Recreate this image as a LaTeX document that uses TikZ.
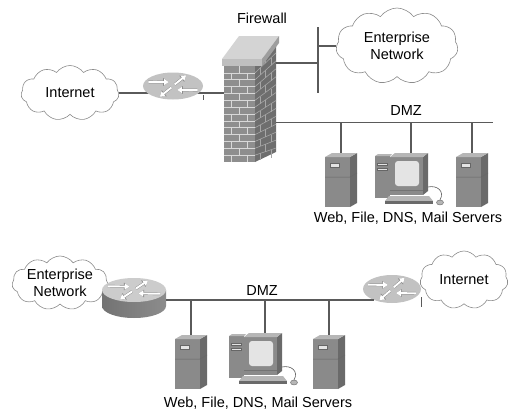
\documentclass[tikz,border=0pt]{standalone}
\usepackage{fontspec}
\setmainfont{Liberation Sans}
\usetikzlibrary{shapes.geometric, shapes.symbols, arrows.meta, calc}
\definecolor{clrLink}{HTML}{5A5A5A}
\definecolor{clrCloud}{HTML}{8C8C8C}
\definecolor{clrRouter}{HTML}{C2C2C2}
\definecolor{clrBrick}{HTML}{8E8E8E}
\definecolor{clrBrickSide}{HTML}{6E6E6E}
\definecolor{clrMortar}{HTML}{D8D8D8}
\definecolor{clrBoxFront}{HTML}{8A8A8A}
\definecolor{clrBoxSide}{HTML}{6A6A6A}
\definecolor{clrBoxTop}{HTML}{B6B6B6}
\definecolor{clrScreen}{HTML}{E4E4E4}

\tikzset{
  server/.pic={
    \fill[clrBoxSide] (25,4) -- (32,0) -- (32,50) -- (25,54) -- cycle;
    \fill[clrBoxFront] (0,4) rectangle (25,54);
    \fill[clrBoxTop] (0,4) -- (7,0) -- (32,0) -- (25,4) -- cycle;
    \draw[black!60, line width=0.5pt] (0,24) -- (25,24) -- (32,20);
    \draw[black!60, fill=clrScreen, line width=0.4pt] (5,10) rectangle (14,14);
    \coordinate (-top) at (16,0);
  },
  workstation/.pic={
    % tower behind the monitor
    \fill[clrBoxFront] (0,3) rectangle (15,45);
    \fill[clrBoxTop] (0,3) -- (3,1) -- (17,1) -- (15,3) -- cycle;
    \draw[black!60, fill=clrScreen, line width=0.4pt] (2,10) rectangle (12,12.5) (2,15) rectangle (12,17.5);
    % monitor
    \fill[clrBoxSide] (48,4) -- (53,0) -- (53,38) -- (48,42) -- cycle;
    \fill[clrBoxFront] (15,4) rectangle (48,42);
    \fill[clrBoxTop] (15,4) -- (20,0) -- (53,0) -- (48,4) -- cycle;
    \fill[clrScreen, rounded corners=3pt] (20,8) rectangle (44,33);
    \draw[black!55, line width=0.5pt] (15,37) -- (48,37);
    % keyboard, mouse
    \fill[clrBoxTop] (14,43) -- (54,43) -- (58,48) -- (10,48) -- cycle;
    \fill[clrBoxSide] (10,48) rectangle (58,51);
    \draw[black!65, line width=0.6pt] (53,34) .. controls (62,32) and (70,38) .. (65,47);
    \filldraw[fill=clrBoxTop, draw=black!60, line width=0.4pt] (65,49.5) ellipse [x radius=3.5, y radius=2.5];
    \coordinate (-top) at (36,0);
  },
  rarrows/.pic={
    \foreach \ax/\ay/\bx/\by in {-0.85/-0.32/-0.15/-0.3, 0.85/0.32/0.15/0.3, 0.06/-0.12/0.45/-0.82, -0.06/0.12/-0.45/0.82}{
      \draw[arrowedge] (\ax,\ay) -- (\bx,\by);
      \draw[arrowglyph] (\ax,\ay) -- (\bx,\by);
    }
  },
  arrowedge/.style={black!45, line width=2.8pt, -{Triangle[length=5.5pt, width=7.5pt]}},
  arrowglyph/.style={white, line width=1.9pt, -{Triangle[length=4.6pt, width=6pt]}},
}

\begin{document}
\begin{tikzpicture}[
    x=1pt, y=-1pt,
    link/.style={draw=clrLink, line width=1.1pt},
    lbl/.style={font=\fontsize{14.5}{17.5}\selectfont, inner sep=0pt, align=center},
    cloudnet/.style={cloud, cloud puffs=11, cloud puff arc=110, cloud ignores aspect, draw=clrCloud, fill=white, line width=0.6pt, inner sep=0pt, font=\fontsize{14.5}{17.5}\selectfont, align=center},
    flatrouter/.style={ellipse, fill=clrRouter, inner sep=0pt},
    fwface/.style={rectangle, fill=clrBrick, inner sep=0pt, minimum width=31pt, minimum height=96pt},
    mortar/.style={draw=clrMortar, line width=0.7pt},
    sidemortar/.style={draw=black!35, line width=0.6pt},
]
\useasboundingbox (0,0) rectangle (509,415);

%% ---------------- firewall layout ----------------

% Firewall wall
\node[lbl] (fwlbl) at (262,18) {Firewall};
\fill[clrBrickSide] (255,66) -- (276,45) -- (276,152) -- (255,162) -- cycle;
\foreach \k in {1,...,13}
  \draw[sidemortar] (255,{66+6.857*\k}) -- (276,{45+7.929*\k});
\foreach \k in {0,2,...,12}
  \draw[sidemortar] (265.5,{55.5+7.39*\k}) -- ++(0,7.39);
\foreach \k in {1,3,...,13}
  \draw[sidemortar] (260,{61+7.1*\k}) -- ++(0,7.1) (271,{50+7.7*\k}) -- ++(0,7.7);
\node[fwface] (fw) at (239.5,114) {};
\foreach \k in {1,...,13}
  \draw[mortar] (fw.west |- 0,{66+6.857*\k}) -- (fw.east |- 0,{66+6.857*\k});
\foreach \k in {0,2,...,12}
  \draw[mortar] (239.5,{66+6.857*\k}) -- ++(0,6.857);
\foreach \k in {1,3,...,13}
  \draw[mortar] (231.5,{66+6.857*\k}) -- ++(0,6.857) (247.5,{66+6.857*\k}) -- ++(0,6.857);
% cap
\fill[black!17] (222,59) -- (239,36) -- (279,36) -- (262,59) -- cycle;
\fill[black!25] (222,59) rectangle (262,66);
\fill[black!38] (262,59) -- (279,36) -- (279,43) -- (262,66) -- cycle;
\coordinate (fwent) at (276,63);
\coordinate (fwdmz) at (276,122.7);

% Internet side
\node[cloudnet, minimum width=98pt, minimum height=55pt] (inetA) at (70,93) {Internet};
\draw[link] (inetA.east) -- (inetA.east -| fw.west);
\node[flatrouter, minimum width=60pt, minimum height=27pt] (rtA) at (173,86) {};
\pic[xscale=29, yscale=13] at (rtA) {rarrows};
\draw[link, line width=0.6pt] ($(rtA.east)+(0,9)$) -- ++(0,5);

% Enterprise side
\node[cloudnet, minimum width=122pt, minimum height=76pt] (entA) at (397,46) {Enterprise\\Network};
\coordinate (busT) at (318,27);
\coordinate (busB) at (318,93);
\draw[link] (fwent) -- (fwent -| busT);
\draw[link] (busT) -- (busB);
\draw[link] (busT |- entA.west) -- (entA.west);

% DMZ segment
\coordinate (dmzEndA) at (493,122.7);
\draw[link] (fwdmz) -- (dmzEndA);
\node[lbl] (dmzA) at (406,111) {DMZ};
\pic (svA1) at (325,153) {server};
\pic (pcA) at (375,153) {workstation};
\pic (svA2) at (456,153) {server};
\foreach \s in {svA1, pcA, svA2}
  \draw[link] (\s-top |- fwdmz) -- (\s-top);
\node[lbl] (srvlblA) at (408,218) {Web, File, DNS, Mail Servers};

%% ---------------- router layout ----------------

\node[cloudnet, minimum width=96pt, minimum height=54pt] (entB) at (60,283) {Enterprise\\Network};
\node[cloudnet, minimum width=88pt, minimum height=58pt] (inetB) at (464,280) {Internet};

% three-leg router
\shade[left color=black!55, middle color=black!5, right color=black!45]
  (102,290) -- (102,306) arc[start angle=180, end angle=0, x radius=32, y radius=12] -- (166,290) -- cycle;
\node[flatrouter, fill=black!20, minimum width=64pt, minimum height=24pt] (rtB) at (134,290) {};
\pic[xscale=31, yscale=11.5] at (rtB) {rarrows};

\node[flatrouter, minimum width=58pt, minimum height=28pt] (rtC) at (392,289) {};
\draw[link] ([yshift=-10pt]rtB.east) -- ([yshift=-10pt]rtB.east -| rtC.211);
\pic[xscale=28, yscale=13.5] at (rtC) {rarrows};
\draw[link, line width=0.6pt] ($(rtC.east)+(0,8)$) -- ++(0,10);

\node[lbl] (dmzB) at (262,291) {DMZ};
\pic (svB1) at (175,335) {server};
\pic (pcB) at (229,333) {workstation};
\pic (svB2) at (313,335) {server};
\foreach \s in {svB1, pcB, svB2}
  \draw[link] (\s-top |- 0,300.5) -- (\s-top);
\node[lbl] (srvlblB) at (258,403) {Web, File, DNS, Mail Servers};

\end{tikzpicture}
\end{document}
